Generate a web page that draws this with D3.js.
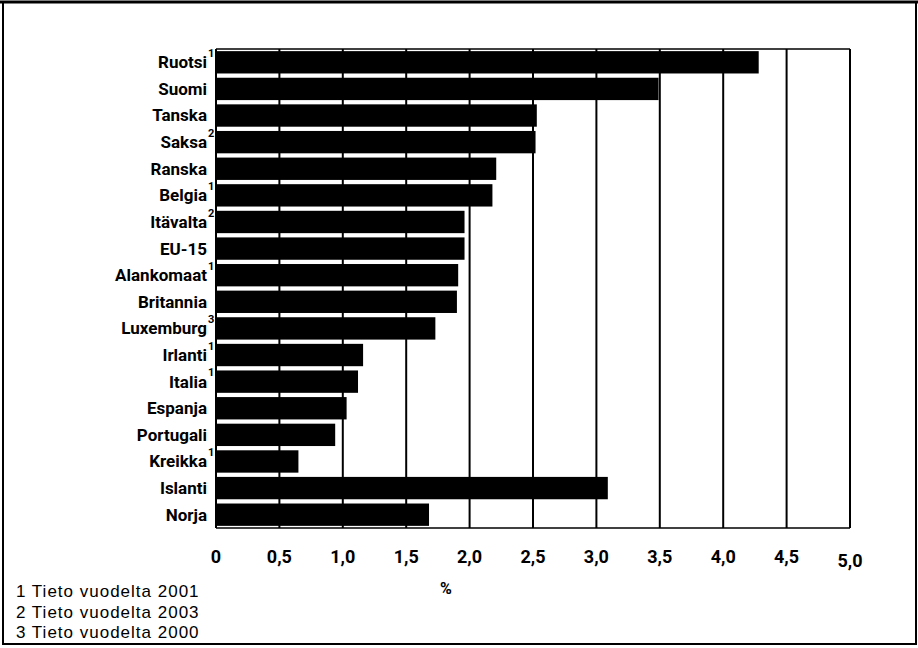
<!DOCTYPE html>
<html>
<head>
<meta charset="utf-8">
<script src="https://cdn.jsdelivr.net/npm/d3@7"></script>
<style>
  html, body { margin: 0; padding: 0; background: #fff; }
  svg { display: block; }
  .lbl { font-family: Roboto, "Liberation Sans", sans-serif; font-weight: bold; }
  .note { font-family: "Liberation Sans", Arial, sans-serif; letter-spacing: 1px; }
</style>
</head>
<body>
<script>
const categories = ["Ruotsi","Suomi","Tanska","Saksa","Ranska","Belgia","Itävalta","EU-15","Alankomaat","Britannia","Luxemburg","Irlanti","Italia","Espanja","Portugali","Kreikka","Islanti","Norja"];
const footnoteMarks = ["1","","","2","","1","2","","1","","3","1","1","","","1","",""];
const values = [4.28,3.49,2.53,2.52,2.21,2.18,1.96,1.96,1.91,1.90,1.73,1.16,1.12,1.03,0.94,0.65,3.09,1.68];
const tickValues = [0,0.5,1.0,1.5,2.0,2.5,3.0,3.5,4.0,4.5,5.0];
const tickLabels = ["0","0,5","1,0","1,5","2,0","2,5","3,0","3,5","4,0","4,5","5,0"];
const axisTitle = "%";
const footnotes = ["1 Tieto vuodelta 2001","2 Tieto vuodelta 2003","3 Tieto vuodelta 2000"];

(function () {
const W = 918, H = 648;
const pLeft = 216, pRight = 850, pTop = 49, pBottom = 528;

const svg = d3.select("body").append("svg").attr("width", W).attr("height", H);

// outer frame
svg.append("rect").attr("x", 3).attr("y", 2).attr("width", 913).attr("height", 642)
  .attr("fill", "none").attr("stroke", "#000").attr("stroke-width", 2);
svg.append("line").attr("x1", 0).attr("x2", W).attr("y1", 2).attr("y2", 2)
  .attr("stroke", "#000").attr("stroke-width", 3);

const x = d3.scaleLinear().domain([0, 5]).range([pLeft, pRight]);
const y = d3.scaleBand().domain(categories).range([pTop, pBottom]).paddingInner(0.16).paddingOuter(0.08);

// gridlines
svg.append("g").selectAll("line").data(tickValues).join("line")
  .attr("x1", d => x(d)).attr("x2", d => x(d))
  .attr("y1", pTop).attr("y2", pBottom)
  .attr("stroke", "#000").attr("stroke-width", 2);

// plot frame top/bottom
svg.append("line").attr("x1", pLeft).attr("x2", pRight).attr("y1", pTop).attr("y2", pTop)
  .attr("stroke", "#000").attr("stroke-width", 1.5);
svg.append("line").attr("x1", pLeft).attr("x2", pRight).attr("y1", pBottom).attr("y2", pBottom)
  .attr("stroke", "#000").attr("stroke-width", 1.5);

// bars
svg.append("g").selectAll("rect").data(categories).join("rect")
  .attr("x", x(0))
  .attr("y", d => y(d))
  .attr("width", (d, i) => x(values[i]) - x(0))
  .attr("height", y.bandwidth())
  .attr("fill", "#000");

// category labels
const lab = svg.append("g");
lab.selectAll("text.cat").data(categories).join("text")
  .attr("class", "lbl cat")
  .attr("x", 207)
  .attr("y", d => y(d) + y.bandwidth() / 2)
  .attr("dy", "0.35em")
  .attr("text-anchor", "end")
  .attr("font-size", 17)
  .attr("fill", "#000")
  .text(d => d);

lab.selectAll("text.sup").data(categories.filter((d, i) => footnoteMarks[i] !== "")).join("text")
  .attr("class", "lbl sup")
  .attr("x", 208)
  .attr("y", d => y(d) + y.bandwidth() / 2 - 9)
  .attr("dy", "0.35em")
  .attr("font-size", 11)
  .attr("fill", "#000")
  .text(d => footnoteMarks[categories.indexOf(d)]);

// x tick labels
svg.append("g").selectAll("text").data(tickValues).join("text")
  .attr("class", "lbl")
  .attr("x", d => x(d))
  .attr("y", (d, i) => i === tickValues.length - 1 ? 567 : 563)
  .attr("text-anchor", "middle")
  .attr("font-size", 18)
  .attr("fill", "#000")
  .text((d, i) => tickLabels[i]);

// axis title
svg.append("text").attr("class", "lbl")
  .attr("x", 446).attr("y", 594)
  .attr("text-anchor", "middle").attr("font-size", 16)
  .text(axisTitle);

// footnotes
svg.append("g").selectAll("text").data(footnotes).join("text")
  .attr("class", "note")
  .attr("x", 16)
  .attr("y", (d, i) => 597 + i * 20.5)
  .attr("font-size", 17)
  .attr("fill", "#000")
  .text(d => d);
})();
</script>
</body>
</html>
